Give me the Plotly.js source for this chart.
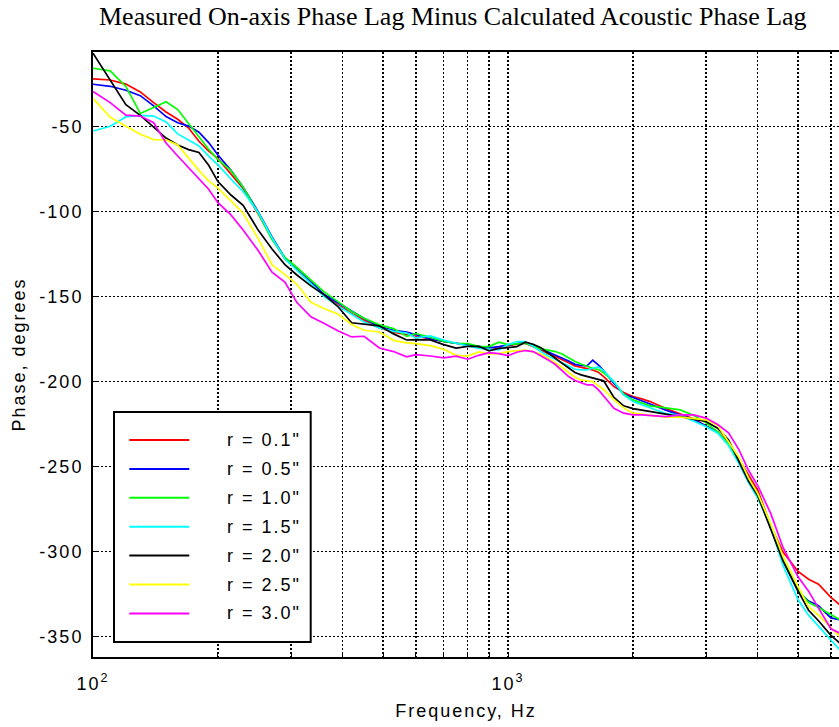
<!DOCTYPE html>
<html>
<head>
<meta charset="utf-8">
<script src="https://cdn.plot.ly/plotly-3.0.1.min.js"></script>
<style>
  html, body { margin: 0; padding: 0; background: #fff; overflow: hidden; }
  #chart { width: 839px; height: 727px; }
  .xtick text, .ytick text, text.xtitle, text.ytitle, text.annotation-text { letter-spacing: 2px; }
</style>
</head>
<body>
<div id="chart"></div>
<script>
// Frequency (Hz)
const freq = [100,110,120,130,140,150,160,170,180,190,200,215,230,250,270,290,310,335,360,390,420,450,490,530,570,
  600,650,700,750,800,850,900,950,1000,1050,1100,1150,1200,1250,1300,1350,1400,1450,1500,1550,1600,1650,1700,
  1800,1900,2000,2100,2200,2400,2600,2800,3000,3200,3400,3600,3800,4000,4300,4600,5000,5300,5600,6000,6300];

// Phase, degrees, for each radius
const r01 = [-22.2,-22.8,-25.2,-29.8,-36.1,-41.6,-45.9,-51,-58.8,-64.6,-69,-78.1,-86.6,-101.5,-116,-128,-134,-142,-149.5,-155,-160,-164,-168.5,-171,-172.5,
  -173.6,-175.2,-176.5,-177.5,-178.7,-179.9,-181,-180.4,-178.9,-178.1,-177.5,-179.5,-181.8,-183.6,-185.3,-186.9,-188.9,-190.8,-191.8,-192.4,-193.2,-194.5,-197.1,
  -203,-206.5,-208.8,-210.2,-211.8,-215.9,-218.8,-221.9,-226.2,-229.8,-235.6,-245.4,-254.8,-264,-285,-300.2,-311.6,-316.2,-319.1,-326.9,-331.2];
const r05 = [-25.3,-26.5,-28.8,-32,-38,-44.3,-47.9,-49.9,-53.5,-59.6,-66.9,-75.9,-85.8,-100.2,-115,-127.4,-133.3,-141.1,-148.7,-153.8,-158.5,-163,-167.7,-169.9,-170.9,
  -172.4,-175,-176.5,-177.5,-178.7,-179.7,-180.2,-179.5,-178.7,-177.7,-176.7,-178.5,-180.8,-182.6,-184.4,-186,-187.9,-189.9,-190.6,-190.8,-187.5,-190.2,-193.6,
  -201.2,-207.5,-209.4,-211.2,-213.2,-216.8,-219.6,-222.3,-226.1,-229.8,-237,-246.4,-256.8,-266,-285.6,-305.4,-323.4,-329,-331.8,-338.9,-340];
const r10 = [-15.9,-17.4,-26.6,-42.5,-39,-35.6,-40.2,-48.5,-56.4,-63.5,-69.6,-76.1,-85.8,-101,-116.5,-127,-133,-140.5,-147.2,-153.2,-158.8,-162.8,-166.7,-168.9,-173.5,
  -171.8,-174,-176.5,-177.5,-177.7,-179.3,-179.5,-176.9,-178.3,-178.1,-177.5,-179.1,-180.8,-181.6,-182.4,-183.8,-186,-188.3,-189.7,-191.2,-192.2,-193,-194.9,
  -200,-207.5,-210.8,-212.8,-214.3,-215.5,-216.7,-219.8,-224.3,-229.4,-236.8,-247.2,-257.8,-266,-285.6,-304.8,-322.7,-329.7,-332.8,-337.3,-340];
const r15 = [-52.8,-50,-44.5,-43.6,-44,-47.5,-54.5,-58,-61.6,-67.5,-72.7,-81,-88.4,-100.5,-115.5,-128,-134.5,-142.5,-150,-155.8,-160.5,-165,-168.5,-170.5,-171.5,
  -174.4,-173.2,-175.7,-177.5,-179.3,-180.6,-181,-181.4,-178.3,-176.5,-176.5,-179.5,-182.4,-185,-186.9,-189.1,-191,-192.8,-193.2,-193.2,-192.2,-191.4,-193.6,
  -200.2,-207.9,-211.8,-213.7,-215.5,-218.8,-219.8,-223.1,-226.4,-230.4,-237.6,-248.2,-259.5,-268.7,-285.8,-308.1,-328.3,-337.3,-343.8,-352.2,-357.7];
const r20 = [-7.1,-23.3,-37.3,-43.6,-50.2,-56.9,-61,-63.7,-65.4,-72.9,-82.5,-90.4,-96.4,-111,-122.1,-131.3,-137.4,-143.8,-148.9,-156.2,-165.5,-166.5,-167.3,-172,-175.6,
  -175.4,-175.6,-178.3,-180.4,-179.3,-179.3,-182,-180.6,-180.1,-179.5,-176.9,-178.1,-180.1,-183,-186.3,-189.3,-192.2,-194.7,-196.1,-197.1,-198.1,-198.7,-199.6,
  -209.4,-214.3,-215.9,-216.9,-217.7,-219.2,-220.6,-221.9,-223.5,-227.4,-234.3,-247,-258.6,-267.2,-287.2,-305.4,-323.1,-334.4,-340.6,-349.2,-353.7];
const r25 = [-33.6,-44.7,-50,-54.7,-57.8,-58,-61,-69,-75.9,-82.1,-86.3,-93.9,-101.1,-116,-131.3,-137.2,-142.9,-153.4,-157.1,-160.5,-166.5,-169.9,-170.9,-175.8,-177.3,
  -177.7,-178.9,-181,-184.6,-185.1,-182.6,-183.8,-183.6,-182.4,-181.8,-181.6,-182.6,-183.8,-186.3,-188.9,-191.8,-194.7,-197.5,-199.1,-199.6,-200,-202.4,-204.7,
  -210.6,-215.5,-218.6,-219.2,-219.4,-220.9,-220.9,-221.7,-222.5,-225.9,-235.3,-244.5,-256.8,-266,-283.8,-302.8,-320.5,-332.4,-337.3,-344.7,-349.8];
const r30 = [-29.6,-36.1,-43.5,-44,-47.9,-59.8,-67.5,-74.3,-80.4,-87,-94.9,-102.1,-111,-123,-135.8,-141.5,-153.6,-162,-165.8,-170.3,-173.8,-173.4,-180.3,-182.4,-185.5,
  -184.2,-185,-186.1,-185.1,-186.9,-184.6,-183,-183.6,-184.8,-182.8,-181.8,-182.4,-184.8,-187.3,-190,-193.4,-197.1,-199.4,-200.6,-202,-202,-204.8,-208.5,
  -215.7,-218.6,-219.6,-219.6,-219.9,-220.6,-219.6,-219.6,-221.5,-225.3,-230.2,-240,-252.3,-261.3,-277.8,-297.5,-314.8,-323.2,-333.2,-345.3,-347.9];

const seriesNames = ['r = 0.1"', 'r = 0.5"', 'r = 1.0"', 'r = 1.5"', 'r = 2.0"', 'r = 2.5"', 'r = 3.0"'];
const seriesValues = [r01, r05, r10, r15, r20, r25, r30];
const seriesColors = ['#ff0000', '#0000ff', '#00ff00', '#00ffff', '#000000', '#ffff00', '#ff00ff'];

// Axis ticks
const xTickVals = [100, 1000];
const xTickText = ['10<sup>2</sup>', '10<sup>3</sup>'];
const xMinorVals = [200,300,400,500,600,700,800,900,2000,3000,4000,5000,6000];
const yTickVals = [-350,-300,-250,-200,-150,-100,-50];
const yTickText = ['-350','-300','-250','-200','-150','-100','-50'];

// ---- layout geometry (pixels) ----
const W = 839, H = 727;
const M = {l: 93, r: 0, t: 52, b: 70};
const plotW = W - M.l - M.r, plotH = H - M.t - M.b;
const px2xp = px => (px - M.l) / plotW;
const py2yp = py => (H - M.b - py) / plotH;

const traces = seriesValues.map((vals, i) => ({
  type: 'scatter', mode: 'lines', x: freq, y: vals, name: seriesNames[i],
  line: {color: seriesColors[i], width: 1.7}, showlegend: false, hoverinfo: 'skip'
}));

const fontSans = '"Liberation Sans", Arial, Helvetica, sans-serif';
const shapes = [{
  type: 'rect', xref: 'paper', yref: 'paper', layer: 'above',
  x0: px2xp(114), x1: px2xp(310.7), y0: py2yp(642), y1: py2yp(412),
  line: {color: '#000', width: 2}, fillcolor: '#fff'
}];
const annotations = [];
seriesNames.forEach((nm, i) => {
  const yy = py2yp(440 + i * 28.9);
  shapes.push({type: 'line', xref: 'paper', yref: 'paper', layer: 'above',
    x0: px2xp(129.3), x1: px2xp(189.3), y0: yy, y1: yy,
    line: {color: seriesColors[i], width: 2}});
  annotations.push({xref: 'paper', yref: 'paper', x: px2xp(225), y: yy,
    xanchor: 'left', yanchor: 'middle', showarrow: false, text: nm,
    font: {family: fontSans, size: 18, color: '#000'}});
});

const gridStyle = {gridcolor: '#000', gridwidth: 1.2, griddash: '2px,2px'};

const layout = {
  width: W, height: H,
  margin: M,
  paper_bgcolor: '#fff', plot_bgcolor: '#fff',
  font: {family: fontSans, size: 18, color: '#000'},
  title: {text: 'Measured On-axis Phase Lag Minus Calculated Acoustic Phase Lag',
    font: {family: '"Liberation Serif", "Times New Roman", serif', size: 26, color: '#000'},
    xref: 'container', x: 452.8 / W, xanchor: 'center',
    yref: 'container', y: 1 - 7 / H, yanchor: 'top'},
  xaxis: Object.assign({
    type: 'log', range: [2, 2 + plotW / 415], autorange: false,
    tickmode: 'array', tickvals: xTickVals, ticktext: xTickText,
    showgrid: true,
    minor: Object.assign({tickmode: 'array', tickvals: xMinorVals, showgrid: true,
      ticks: 'inside', ticklen: 4, tickcolor: '#000', tickwidth: 1}, gridStyle),
    showline: true, linecolor: '#000', linewidth: 2, mirror: true,
    ticks: 'inside', ticklen: 4, tickcolor: '#000', tickwidth: 1,
    ticklabelstandoff: 9,
    zeroline: false,
    title: {text: 'Frequency, Hz', standoff: 12, font: {family: fontSans, size: 18, color: '#000'}},
    tickfont: {family: fontSans, size: 18, color: '#000'}
  }, gridStyle),
  yaxis: Object.assign({
    range: [-361.9, -6.35], autorange: false,
    tickmode: 'array', tickvals: yTickVals, ticktext: yTickText,
    showgrid: true,
    showline: true, linecolor: '#000', linewidth: 2, mirror: false,
    ticks: 'inside', ticklen: 4, tickcolor: '#000', tickwidth: 1,
    ticklabelstandoff: 4,
    zeroline: false,
    title: {text: 'Phase, degrees', standoff: 9, font: {family: fontSans, size: 18, color: '#000'}},
    tickfont: {family: fontSans, size: 18, color: '#000'}
  }, gridStyle),
  shapes: shapes,
  annotations: annotations,
  showlegend: false
};

Plotly.newPlot('chart', traces, layout, {displayModeBar: false, staticPlot: true});
</script>
</body>
</html>
